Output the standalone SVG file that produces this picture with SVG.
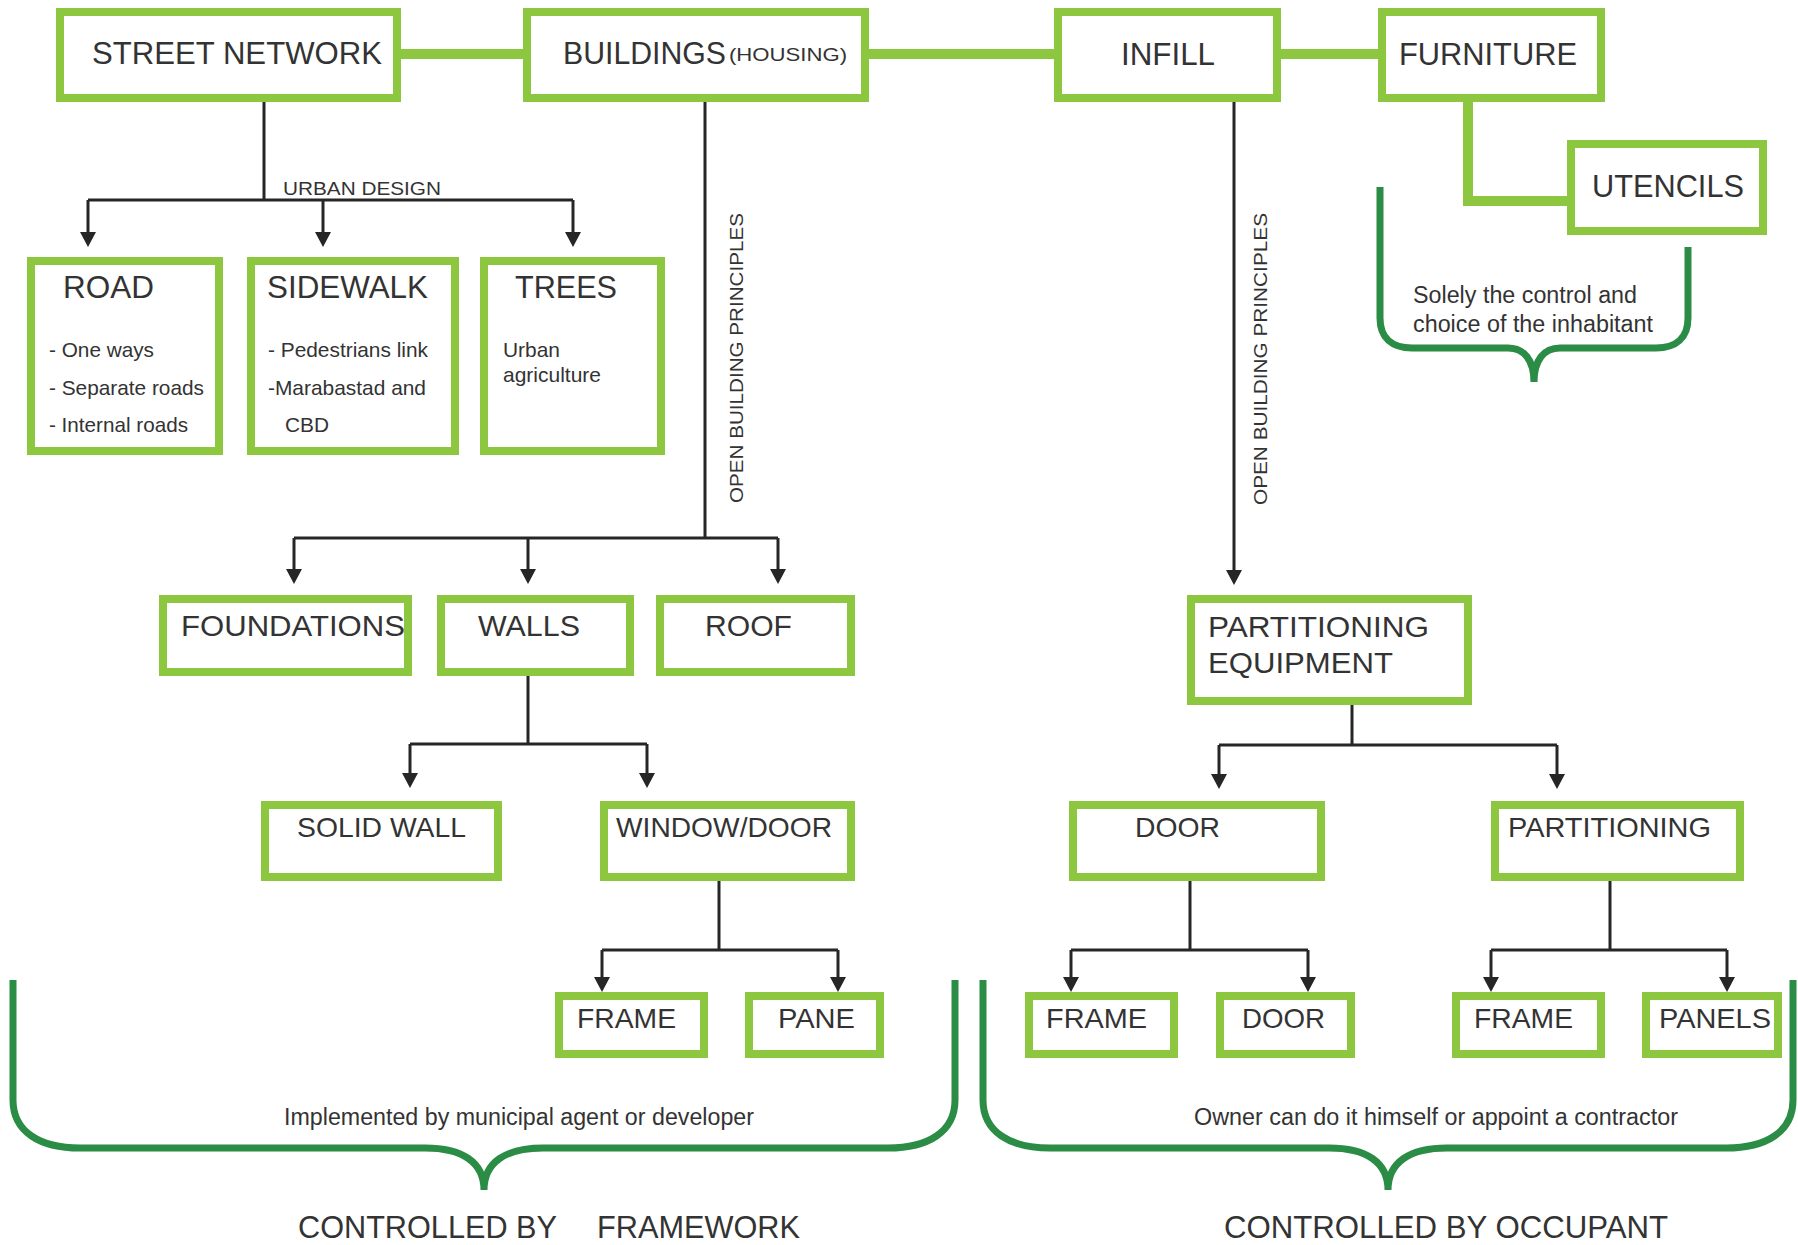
<svg xmlns="http://www.w3.org/2000/svg" width="1798" height="1245" viewBox="0 0 1798 1245">
<defs>
<style>
.box{fill:#fff;stroke:#8DC63F;stroke-width:8}
.t{font-family:"Liberation Sans",Arial,sans-serif;fill:#333;lengthAdjust:spacingAndGlyphs}
.L1{font-size:31px}
.L2{font-size:29px}
.L3{font-size:28px}
.s{font-size:21px}
.m{font-size:23px}
.sm{font-size:18px}
.gbar{stroke:#8DC63F;stroke-width:10;fill:none}
.ln{stroke:#262626;stroke-width:3;fill:none}
.ar{stroke:#262626;stroke-width:3;fill:none;marker-end:url(#ah)}
.br{stroke:#2B8C46;stroke-width:7;fill:none}
</style>
<marker id="ah" viewBox="0 0 15 16" refX="3" refY="8" markerWidth="15" markerHeight="16" markerUnits="userSpaceOnUse" orient="auto">
<path d="M0,0 L15,8 L0,16 z" fill="#262626"/>
</marker>
</defs>
<rect width="1798" height="1245" fill="#fff"/>

<g id="connectors">
<path class="gbar" d="M401,54 H523"/>
<path class="gbar" d="M869,54 H1054"/>
<path class="gbar" d="M1281,54 H1378"/>
<path class="gbar" d="M1468,102 V201 H1567"/>

<path class="ln" d="M264,102 V200"/>
<path class="ln" d="M88,200 H573"/>
<path class="ar" d="M88,200 V235"/>
<path class="ar" d="M323,200 V235"/>
<path class="ar" d="M573,200 V235"/>

<path class="ln" d="M705,102 V538"/>
<path class="ln" d="M294,538 H778"/>
<path class="ar" d="M294,538 V572"/>
<path class="ar" d="M528,538 V572"/>
<path class="ar" d="M778,538 V572"/>

<path class="ar" d="M1234,102 V573"/>

<path class="ln" d="M528,676 V744"/>
<path class="ln" d="M410,744 H647"/>
<path class="ar" d="M410,744 V776"/>
<path class="ar" d="M647,744 V776"/>

<path class="ln" d="M1352,705 V745"/>
<path class="ln" d="M1219,745 H1557"/>
<path class="ar" d="M1219,745 V777"/>
<path class="ar" d="M1557,745 V777"/>

<path class="ln" d="M719,881 V950"/>
<path class="ln" d="M602,950 H838"/>
<path class="ar" d="M602,950 V980"/>
<path class="ar" d="M838,950 V980"/>

<path class="ln" d="M1190,881 V950"/>
<path class="ln" d="M1071,950 H1308"/>
<path class="ar" d="M1071,950 V980"/>
<path class="ar" d="M1308,950 V980"/>

<path class="ln" d="M1610,881 V950"/>
<path class="ln" d="M1491,950 H1727"/>
<path class="ar" d="M1491,950 V980"/>
<path class="ar" d="M1727,950 V980"/>

<text class="t sm" transform="translate(743,503) rotate(-90)" textLength="290" lengthAdjust="spacingAndGlyphs">OPEN BUILDING PRINCIPLES</text>
<text class="t sm" transform="translate(1267,505) rotate(-90)" textLength="292" lengthAdjust="spacingAndGlyphs">OPEN BUILDING PRINCIPLES</text>
<text class="t sm" x="283" y="195" textLength="158" lengthAdjust="spacingAndGlyphs">URBAN DESIGN</text>
</g>

<g id="street-network"><rect class="box" x="60" y="12" width="337" height="86"/><text class="t L1" x="92" y="64" textLength="290" lengthAdjust="spacingAndGlyphs">STREET NETWORK</text></g>
<g id="buildings"><rect class="box" x="527" y="12" width="338" height="86"/><text class="t L1" x="563" y="64" textLength="163" lengthAdjust="spacingAndGlyphs">BUILDINGS</text><text class="t sm" x="729" y="61" textLength="118" lengthAdjust="spacingAndGlyphs">(HOUSING)</text></g>
<g id="infill"><rect class="box" x="1058" y="12" width="219" height="86"/><text class="t L1" x="1121" y="65" textLength="94" lengthAdjust="spacingAndGlyphs">INFILL</text></g>
<g id="furniture"><rect class="box" x="1382" y="12" width="219" height="86"/><text class="t L1" x="1399" y="65" textLength="178" lengthAdjust="spacingAndGlyphs">FURNITURE</text></g>
<g id="utencils"><rect class="box" x="1571" y="144" width="192" height="87"/><text class="t L1" x="1592" y="197" textLength="152" lengthAdjust="spacingAndGlyphs">UTENCILS</text></g>

<g id="road"><rect class="box" x="31" y="261" width="188" height="190"/>
<text class="t L1" x="63" y="298" textLength="91" lengthAdjust="spacingAndGlyphs">ROAD</text>
<text class="t s" x="49" y="357" textLength="105" lengthAdjust="spacingAndGlyphs">- One ways</text>
<text class="t s" x="49" y="395" textLength="155" lengthAdjust="spacingAndGlyphs">- Separate roads</text>
<text class="t s" x="49" y="432" textLength="139" lengthAdjust="spacingAndGlyphs">- Internal roads</text></g>
<g id="sidewalk"><rect class="box" x="251" y="261" width="204" height="190"/>
<text class="t L1" x="267" y="298" textLength="161" lengthAdjust="spacingAndGlyphs">SIDEWALK</text>
<text class="t s" x="268" y="357" textLength="160" lengthAdjust="spacingAndGlyphs">- Pedestrians link</text>
<text class="t s" x="268" y="395" textLength="158" lengthAdjust="spacingAndGlyphs">-Marabastad and</text>
<text class="t s" x="285" y="432" textLength="44" lengthAdjust="spacingAndGlyphs">CBD</text></g>
<g id="trees"><rect class="box" x="484" y="261" width="177" height="190"/>
<text class="t L1" x="515" y="298" textLength="102" lengthAdjust="spacingAndGlyphs">TREES</text>
<text class="t s" x="503" y="357" textLength="57" lengthAdjust="spacingAndGlyphs">Urban</text>
<text class="t s" x="503" y="382" textLength="98" lengthAdjust="spacingAndGlyphs">agriculture</text></g>

<g id="foundations"><rect class="box" x="163" y="599" width="245" height="73"/><text class="t L2" x="181" y="636" textLength="224" lengthAdjust="spacingAndGlyphs">FOUNDATIONS</text></g>
<g id="walls"><rect class="box" x="441" y="599" width="189" height="73"/><text class="t L2" x="478" y="636" textLength="102" lengthAdjust="spacingAndGlyphs">WALLS</text></g>
<g id="roof"><rect class="box" x="660" y="599" width="191" height="73"/><text class="t L2" x="705" y="636" textLength="87" lengthAdjust="spacingAndGlyphs">ROOF</text></g>
<g id="partitioning-equipment"><rect class="box" x="1191" y="599" width="277" height="102"/>
<text class="t L2" x="1208" y="637" textLength="221" lengthAdjust="spacingAndGlyphs">PARTITIONING</text>
<text class="t L2" x="1208" y="673" textLength="185" lengthAdjust="spacingAndGlyphs">EQUIPMENT</text></g>

<g id="solid-wall"><rect class="box" x="265" y="805" width="233" height="72"/><text class="t L3" x="297" y="837" textLength="169" lengthAdjust="spacingAndGlyphs">SOLID WALL</text></g>
<g id="window-door"><rect class="box" x="604" y="805" width="247" height="72"/><text class="t L3" x="616" y="837" textLength="216" lengthAdjust="spacingAndGlyphs">WINDOW/DOOR</text></g>
<g id="door"><rect class="box" x="1073" y="805" width="248" height="72"/><text class="t L3" x="1135" y="837" textLength="85" lengthAdjust="spacingAndGlyphs">DOOR</text></g>
<g id="partitioning"><rect class="box" x="1495" y="805" width="245" height="72"/><text class="t L3" x="1508" y="837" textLength="203" lengthAdjust="spacingAndGlyphs">PARTITIONING</text></g>

<g id="frame-1"><rect class="box" x="559" y="996" width="145" height="58"/><text class="t L3" x="577" y="1028" textLength="99" lengthAdjust="spacingAndGlyphs">FRAME</text></g>
<g id="pane"><rect class="box" x="749" y="996" width="131" height="58"/><text class="t L3" x="778" y="1028" textLength="77" lengthAdjust="spacingAndGlyphs">PANE</text></g>
<g id="frame-2"><rect class="box" x="1029" y="996" width="145" height="58"/><text class="t L3" x="1046" y="1028" textLength="101" lengthAdjust="spacingAndGlyphs">FRAME</text></g>
<g id="door-2"><rect class="box" x="1220" y="996" width="131" height="58"/><text class="t L3" x="1242" y="1028" textLength="83" lengthAdjust="spacingAndGlyphs">DOOR</text></g>
<g id="frame-3"><rect class="box" x="1456" y="996" width="145" height="58"/><text class="t L3" x="1474" y="1028" textLength="99" lengthAdjust="spacingAndGlyphs">FRAME</text></g>
<g id="panels"><rect class="box" x="1646" y="996" width="132" height="58"/><text class="t L3" x="1659" y="1028" textLength="112" lengthAdjust="spacingAndGlyphs">PANELS</text></g>

<g id="brackets">
<path class="br" d="M1380,187 V318 C1380,338 1392,348 1412,348 H1508 C1524,348 1534,360 1534,382 C1534,360 1544,348 1560,348 H1656 C1676,348 1688,338 1688,318 V247"/>
<text class="t m" x="1413" y="303" textLength="224" lengthAdjust="spacingAndGlyphs">Solely the control and</text>
<text class="t m" x="1413" y="332" textLength="240" lengthAdjust="spacingAndGlyphs">choice of the inhabitant</text>

<path class="br" d="M13,980 V1100 C13,1132 40,1148 80,1148 H425 C462,1148 484,1162 484,1190 C484,1162 506,1148 543,1148 H888 C928,1148 955,1132 955,1100 V980"/>
<text class="t m" x="284" y="1125" textLength="470" lengthAdjust="spacingAndGlyphs">Implemented by municipal agent or developer</text>
<text class="t L1" y="1238"><tspan x="298" textLength="259" lengthAdjust="spacingAndGlyphs">CONTROLLED BY</tspan><tspan x="597" textLength="203" lengthAdjust="spacingAndGlyphs">FRAMEWORK</tspan></text>

<path class="br" d="M983,980 V1100 C983,1132 1010,1148 1050,1148 H1329 C1366,1148 1388,1162 1388,1190 C1388,1162 1410,1148 1447,1148 H1726 C1766,1148 1793,1132 1793,1100 V980"/>
<text class="t m" x="1194" y="1125" textLength="484" lengthAdjust="spacingAndGlyphs">Owner can do it himself or appoint a contractor</text>
<text class="t L1" x="1224" y="1238" textLength="444" lengthAdjust="spacingAndGlyphs">CONTROLLED BY OCCUPANT</text>
</g>
</svg>
